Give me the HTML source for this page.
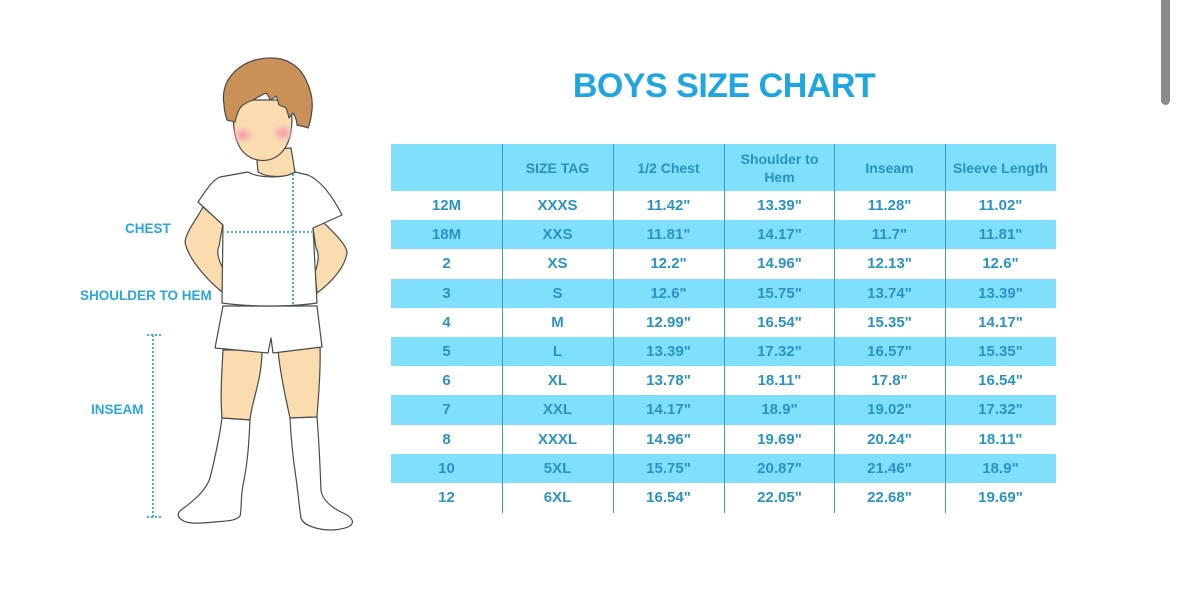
<!DOCTYPE html>
<html><head><meta charset="utf-8"><style>
html,body{margin:0;padding:0;background:#fff;}
body{width:1179px;height:604px;position:relative;overflow:hidden;font-family:"Liberation Sans",sans-serif;}
.title{position:absolute;left:0;width:1448px;top:66px;text-align:center;font-weight:bold;font-size:34px;letter-spacing:-0.5px;color:#1fa6e0;line-height:40px;}
.row{position:absolute;left:391px;width:665px;height:29.2px;}
.blue{background:#80dffa;}
.cell{position:absolute;top:0;height:100%;width:111px;display:flex;align-items:center;justify-content:center;font-weight:bold;font-size:15px;color:#2b93c3;}
.hdr{position:absolute;left:391px;top:144px;width:665px;height:47px;background:#80dffa;}
.hdr .cell{font-size:14px;line-height:18px;text-align:center;color:#2a90be;}
.vl{position:absolute;top:144px;height:369px;width:1px;background:#3f9bcb;}
.lbl{position:absolute;font-weight:bold;font-size:13.5px;color:#2ba6db;line-height:16px;}
.sb{position:absolute;left:1161px;top:0;width:9px;height:105px;background:#8a8a8a;border-radius:0 0 5px 5px;}
</style></head><body>
<div class="sb"></div>
<div class="title">BOYS SIZE CHART</div>

<div class="hdr">
<div class="cell" style="left:0"></div>
<div class="cell" style="left:111px">SIZE TAG</div>
<div class="cell" style="left:222px">1/2 Chest</div>
<div class="cell" style="left:333px">Shoulder to<br>Hem</div>
<div class="cell" style="left:443px">Inseam</div>
<div class="cell" style="left:554px">Sleeve Length</div>
</div>

<div class="row" style="top:191px"><div class="cell" style="left:0">12M</div><div class="cell" style="left:111px">XXXS</div><div class="cell" style="left:222px">11.42"</div><div class="cell" style="left:333px">13.39"</div><div class="cell" style="left:443px">11.28"</div><div class="cell" style="left:554px">11.02"</div></div>
<div class="row blue" style="top:220.2px"><div class="cell" style="left:0">18M</div><div class="cell" style="left:111px">XXS</div><div class="cell" style="left:222px">11.81"</div><div class="cell" style="left:333px">14.17"</div><div class="cell" style="left:443px">11.7"</div><div class="cell" style="left:554px">11.81"</div></div>
<div class="row" style="top:249.4px"><div class="cell" style="left:0">2</div><div class="cell" style="left:111px">XS</div><div class="cell" style="left:222px">12.2"</div><div class="cell" style="left:333px">14.96"</div><div class="cell" style="left:443px">12.13"</div><div class="cell" style="left:554px">12.6"</div></div>
<div class="row blue" style="top:278.6px"><div class="cell" style="left:0">3</div><div class="cell" style="left:111px">S</div><div class="cell" style="left:222px">12.6"</div><div class="cell" style="left:333px">15.75"</div><div class="cell" style="left:443px">13.74"</div><div class="cell" style="left:554px">13.39"</div></div>
<div class="row" style="top:307.8px"><div class="cell" style="left:0">4</div><div class="cell" style="left:111px">M</div><div class="cell" style="left:222px">12.99"</div><div class="cell" style="left:333px">16.54"</div><div class="cell" style="left:443px">15.35"</div><div class="cell" style="left:554px">14.17"</div></div>
<div class="row blue" style="top:337px"><div class="cell" style="left:0">5</div><div class="cell" style="left:111px">L</div><div class="cell" style="left:222px">13.39"</div><div class="cell" style="left:333px">17.32"</div><div class="cell" style="left:443px">16.57"</div><div class="cell" style="left:554px">15.35"</div></div>
<div class="row" style="top:366.2px"><div class="cell" style="left:0">6</div><div class="cell" style="left:111px">XL</div><div class="cell" style="left:222px">13.78"</div><div class="cell" style="left:333px">18.11"</div><div class="cell" style="left:443px">17.8"</div><div class="cell" style="left:554px">16.54"</div></div>
<div class="row blue" style="top:395.4px"><div class="cell" style="left:0">7</div><div class="cell" style="left:111px">XXL</div><div class="cell" style="left:222px">14.17"</div><div class="cell" style="left:333px">18.9"</div><div class="cell" style="left:443px">19.02"</div><div class="cell" style="left:554px">17.32"</div></div>
<div class="row" style="top:424.6px"><div class="cell" style="left:0">8</div><div class="cell" style="left:111px">XXXL</div><div class="cell" style="left:222px">14.96"</div><div class="cell" style="left:333px">19.69"</div><div class="cell" style="left:443px">20.24"</div><div class="cell" style="left:554px">18.11"</div></div>
<div class="row blue" style="top:453.8px"><div class="cell" style="left:0">10</div><div class="cell" style="left:111px">5XL</div><div class="cell" style="left:222px">15.75"</div><div class="cell" style="left:333px">20.87"</div><div class="cell" style="left:443px">21.46"</div><div class="cell" style="left:554px">18.9"</div></div>
<div class="row" style="top:483px"><div class="cell" style="left:0">12</div><div class="cell" style="left:111px">6XL</div><div class="cell" style="left:222px">16.54"</div><div class="cell" style="left:333px">22.05"</div><div class="cell" style="left:443px">22.68"</div><div class="cell" style="left:554px">19.69"</div></div>

<div class="vl" style="left:502px"></div>
<div class="vl" style="left:613px"></div>
<div class="vl" style="left:724px"></div>
<div class="vl" style="left:834px"></div>
<div class="vl" style="left:945px"></div>

<div class="lbl" style="left:125px;top:221px">CHEST</div>
<div class="lbl" style="left:80px;top:288px">SHOULDER TO HEM</div>
<div class="lbl" style="left:91px;top:402px">INSEAM</div>

<svg style="position:absolute;left:0;top:0" width="1179" height="604" viewBox="0 0 1179 604">
<defs>
<radialGradient id="ck" cx="0.5" cy="0.5" r="0.5"><stop offset="0" stop-color="#f29aa6" stop-opacity="1"/><stop offset="0.5" stop-color="#f5b2b6" stop-opacity="0.7"/><stop offset="1" stop-color="#f8c9c4" stop-opacity="0"/></radialGradient>
</defs>
<g stroke="#4a4a4a" stroke-width="1.2" stroke-linejoin="round">
<!-- arms -->
<path d="M203,207 C196,220 186,232 185,242 C188,258 205,278 222,292 L224,270 C219,262 216,252 219,246 L223,224 Z" fill="#fbdcae"/>
<path d="M323,222 C333,232 346,244 347,252 C346,266 332,282 317,293 L315,272 C318,264 320,255 316,248 L313,228 Z" fill="#fbdcae"/>
<!-- neck -->
<path d="M256,150 L258,172 C268,178 286,178 295,172 L291,148 Z" fill="#fbdcae"/>
<!-- legs -->
<path d="M223,350 L262,350 C262,380 252,400 250,420 L222,418 C220,395 222,370 223,350 Z" fill="#fbdcae"/>
<path d="M278,350 L320,346 C321,375 318,400 317,417 L290,418 C285,395 280,372 278,350 Z" fill="#fbdcae"/>
<!-- socks -->
<path d="M222,418 L250,420 C249,440 248,460 244,480 C240,496 242,510 240,516 C236,521 226,521 214,522 C204,523 194,524 186,522 C178,519 176,514 181,510 C195,500 206,490 210,478 C215,458 219,440 222,418 Z" fill="#fff"/>
<path d="M290,418 L317,417 C319,440 320,465 321,490 C322,500 332,508 343,513 C352,517 355,522 350,526 C342,530 330,531 320,529 C310,527 303,524 301,518 C299,505 298,492 296,478 C293,458 291,440 290,418 Z" fill="#fff"/>
<!-- shorts -->
<path d="M223,306 L317,306 L322,347 L273,353 L271,338 L268,353 L215,348 Z" fill="#fff"/>
<!-- shirt -->
<path d="M248,172 C258,178 285,179 295,172 L308,175 C320,180 332,195 342,215 L313,228 L317,303 C290,307 250,307 222,303 L223,225 L198,202 C205,192 212,180 220,177 Z" fill="#fff"/>
<!-- face -->
<path d="M234,110 C232,130 236,148 248,156 C255,161 266,162 274,158 C286,152 292,138 292,118 L290,100 L236,100 Z" fill="#fbdcae"/>
</g>
<ellipse cx="243" cy="135" rx="12" ry="10" fill="url(#ck)"/>
<ellipse cx="283" cy="133" rx="12" ry="10" fill="url(#ck)"/>
<!-- hair -->
<path d="M224,104 C222,94 225,84 230,77 C236,69 245,63 255,60 C263,58 272,57 281,59 C292,62 301,69 306,80 C311,90 313,100 312,110 C311,118 310,124 308,128 C304,126 300,126 297,125 C297,120 295,116 293,113 C291,115 290,117 289,118 C288,113 287,109 285,107 C283,107 281,106 279,105 C278,101 277,98 276,96 C274,98 272,99 270,100 C269,97 268,95 266,93 C262,95 258,97 253,100 C248,102 243,104 240,108 C237,113 236,118 235,122 C232,121 229,121 227,120 C225,114 224,109 224,104 Z" fill="#c99158" stroke="#4a4a4a" stroke-width="1.2" stroke-linejoin="round"/>
<!-- dotted measure lines -->
<g stroke="#3fb3e0" stroke-width="2" stroke-dasharray="2,2" fill="none">
<line x1="293" y1="174" x2="293" y2="307"/>
<line x1="227" y1="232" x2="312" y2="232"/>
<line x1="153" y1="335" x2="153" y2="517"/>
<line x1="147" y1="335" x2="163" y2="335"/>
<line x1="147" y1="517" x2="163" y2="517"/>
</g>
</svg>
</body></html>
